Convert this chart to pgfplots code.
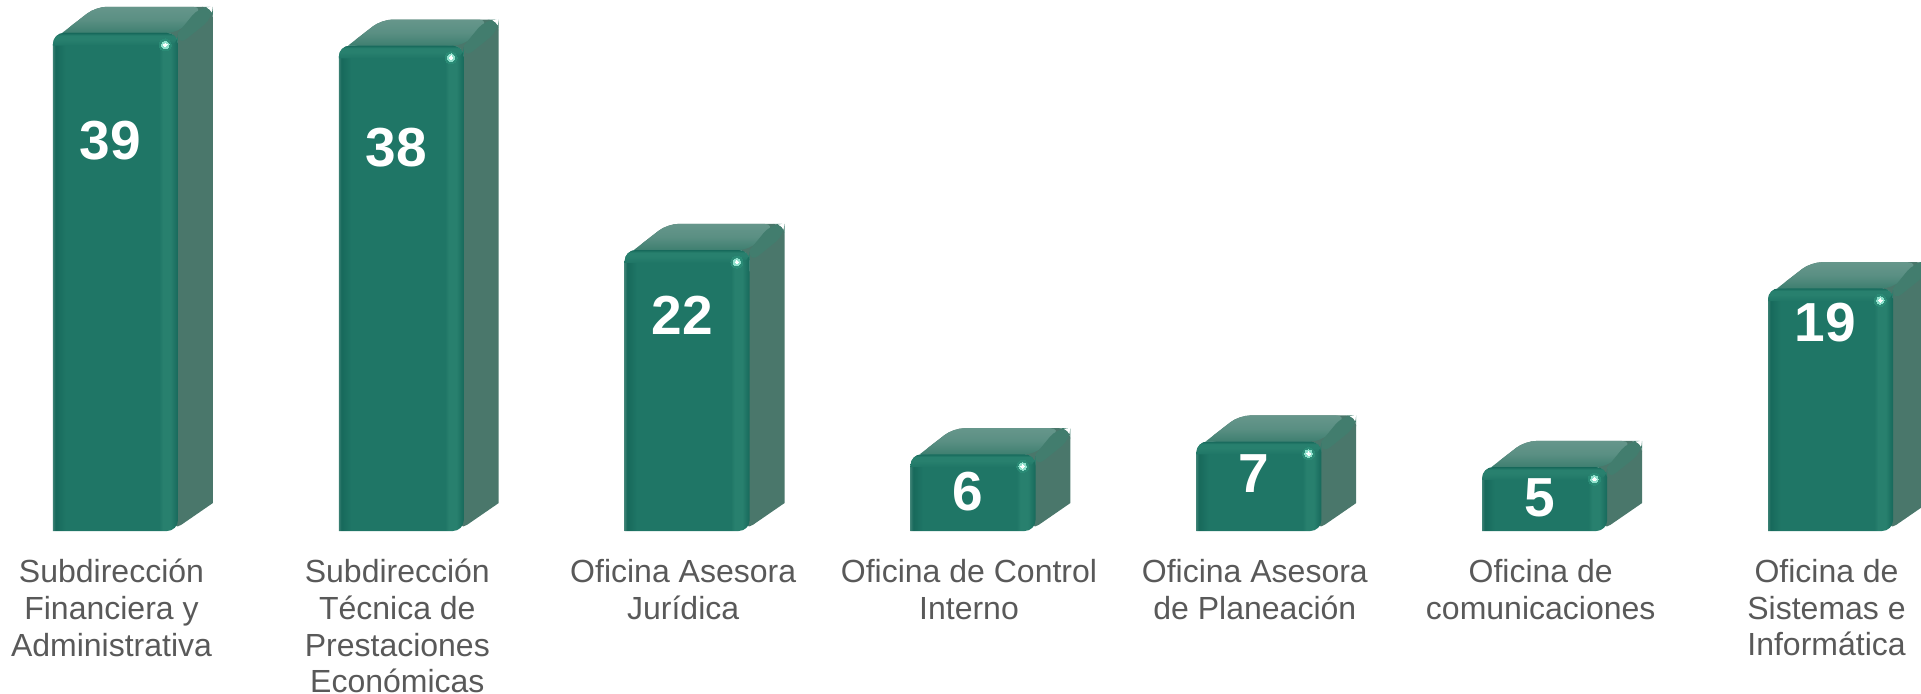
\documentclass[border=0pt]{standalone}
\usepackage{fontspec}
\setmainfont{Liberation Sans}
\usepackage{pgfplots}
\usepackage{pgfplotstable}
\pgfplotsset{compat=1.18}
\definecolor{fmain}{HTML}{1F7666}
\definecolor{fdark}{HTML}{17695B}
\definecolor{flight}{HTML}{2B8B76}
\definecolor{fcol}{HTML}{28806E}
\definecolor{fedge}{HTML}{3A8073}
\definecolor{sidec}{HTML}{4A776B}
\definecolor{topfront}{HTML}{3E7F70}
\definecolor{topback}{HTML}{66968B}
\definecolor{bevel}{HTML}{427D6E}
\definecolor{lab}{HTML}{595959}
\definecolor{hl}{HTML}{8FE0CC}
\pgfdeclarehorizontalshading{barfront}{100bp}{
 color(0bp)=(fedge); color(25bp)=(fedge); color(26bp)=(fdark); color(30bp)=(fmain);
 color(67.5bp)=(fmain); color(69bp)=(fcol); color(72bp)=(fcol); color(75bp)=(fdark); color(100bp)=(fdark)}
\pgfdeclareverticalshading{bartop}{100bp}{
 color(0bp)=(fmain); color(25bp)=(fmain); color(50bp)=(fcol); color(65bp)=(fcol); color(75bp)=(fdark); color(100bp)=(fdark)}
\pgfdeclareverticalshading{topface}{100bp}{
 color(0bp)=(topfront); color(25bp)=(topfront); color(50bp)=(topback!70!topfront); color(75bp)=(topback); color(100bp)=(topback)}
\pgfplotstableread{
x v ly lab
0 39 30.6 39
1 38 30.0 38
2 22 16.9 22
3 6 3.1 6
4 7 4.5 7
5 5 2.6 5
6 19 16.3 19
}\bardata
% one bar: position, value
\newcommand\threedbar[2]{%
 \pgfmathsetmacro\xa{#1-0.2187}\pgfmathsetmacro\xb{#1+0.2187}%
 \pgfmathsetmacro\xs{#1-0.2187+0.032}%
 \pgfmathsetmacro\xc{#1-0.2187+0.15}\pgfmathsetmacro\xd{#1+0.2187+0.122}%
 \pgfmathsetmacro\xe{#1+0.2187-0.02}%
 \pgfmathsetmacro\yb{#2+2.05}\pgfmathsetmacro\yr{2.19}%
 \pgfmathsetmacro\yt{#2-1.0}\pgfmathsetmacro\ybv{#2+1.2}\pgfmathsetmacro\xf{#1+0.2187+0.075}%
 \pgfmathsetmacro\xg{#1+0.2187+0.09}%
 \addplot[draw=none,fill=sidec,rounded corners=5.5pt,forget plot] coordinates {(\xd,\yr)(\xd,\yb)(\xc,\yb)(\xs,#2)(\xb,#2)(\xe,0)(\xd,\yr)};
 \addplot[draw=none,shading=topface,rounded corners=5.5pt,forget plot] coordinates {(\xs,#2)(\xc,\yb)(\xg,\yb)(\xb,#2)(\xs,#2)};
 \addplot[draw=none,fill=bevel,rounded corners=5.5pt,forget plot] coordinates {(\xb,#2)(\xf,\yb)(\xd,\yb)(\xd,\ybv)(\xb,\yt)(\xb,#2)};
 \addplot[draw=none,shading=barfront,rounded corners=5.5pt,forget plot] coordinates {(\xa,0)(\xa,#2)(\xb,#2)(\xb,0)(\xa,0)};
 \addplot[draw=none,shading=bartop,rounded corners=5.5pt,forget plot] coordinates {(\xa,\yt)(\xa,#2)(\xb,#2)(\xb,\yt)(\xa,\yt)};
}
\begin{document}
\begin{tikzpicture}
\useasboundingbox (0,-81pt) rectangle (960.5pt,265.5pt);
\begin{axis}[
  scale only axis, width=960.5pt, height=265.5pt,
  xmin=-0.404, xmax=6.3166, ymin=0, ymax=41.58,
  axis line style={draw=none}, major tick length=0pt,
  ytick=\empty, xtick={0,1,2,3,4,5,6},
  xticklabels={{Subdirección\\Financiera y\\Administrativa},
    {Subdirección\\Técnica de\\Prestaciones\\Económicas},
    {Oficina Asesora\\Jurídica},{Oficina de Control\\Interno},
    {Oficina Asesora\\de Planeación},{Oficina de\\comunicaciones},
    {Oficina de\\Sistemas e\\Informática}},
  xticklabel style={align=center,text=lab,font=\fontsize{16}{18.35}\selectfont,xshift=-2pt,yshift=-12.85pt,inner sep=1pt},
]
\threedbar{0}{39}
\threedbar{1}{38}
\threedbar{2}{22}
\threedbar{3}{6}
\threedbar{4}{7}
\threedbar{5}{5}
\threedbar{6}{19}
\addplot[only marks,mark=*,mark size=3pt,mark options={draw=flight,fill=flight,line width=0pt}] table[x expr=\thisrow{x}+0.174,y expr=\thisrow{v}-0.94]{\bardata};
\addplot[only marks,mark=*,mark size=1.9pt,mark options={draw=hl,fill=hl,line width=0pt}] table[x expr=\thisrow{x}+0.174,y expr=\thisrow{v}-0.94]{\bardata};
\addplot[only marks,mark=*,mark size=0.9pt,mark options={draw=white,fill=white,line width=0pt}] table[x expr=\thisrow{x}+0.174,y expr=\thisrow{v}-0.94]{\bardata};
\addplot[draw=none,mark=none,point meta=explicit symbolic,nodes near coords,
  every node near coord/.append style={anchor=center,text=white,font=\fontsize{27.5}{27.5}\selectfont\bfseries,inner sep=0pt}]
  table[x expr=\thisrow{x}-0.018,y=ly,meta=lab]{\bardata};
\end{axis}
\end{tikzpicture}
\end{document}
